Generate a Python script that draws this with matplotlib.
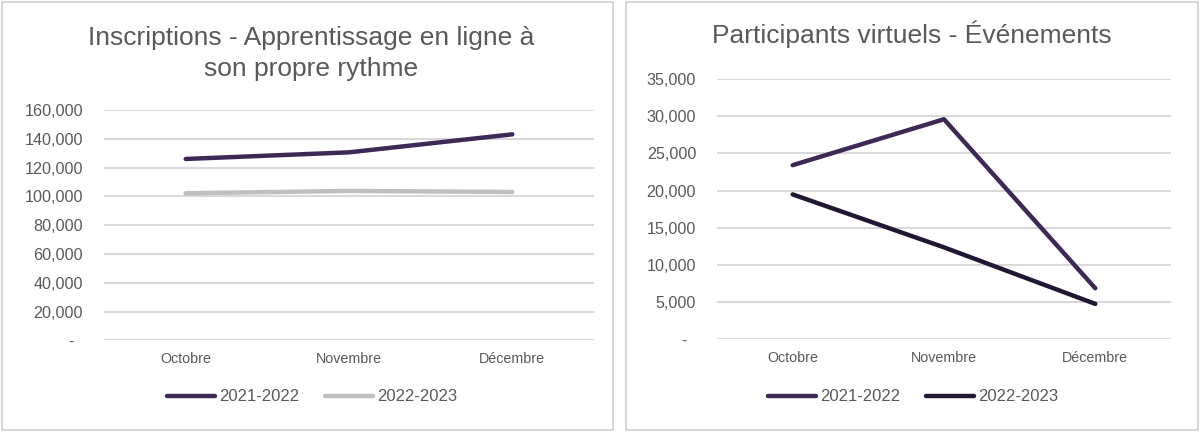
import matplotlib.pyplot as plt
from matplotlib.patches import Rectangle
from matplotlib.ticker import FuncFormatter

plt.rcParams['font.family'] = ['Liberation Sans', 'DejaVu Sans']

# -------- Data --------
months = ['Octobre', 'Novembre', 'Décembre']
series_names = ['2021-2022', '2022-2023']

inscriptions_2122 = [126000, 130600, 143100]
inscriptions_2223 = [102200, 103800, 103100]

virtuels_2122 = [23420, 29590, 6880]
virtuels_2223 = [19490, 12380, 4780]

purple = '#3d2856'
grey = '#bfbfbf'
dark = '#221733'
grid_col = '#d9d9d9'
text_col = '#595959'


def fmt(v, pos):
    # accounting style: zero shown as a dash, set in a little
    return '-  ' if v == 0 else f'{v:,.0f}'


def style_axis(ax, ymax, step):
    ax.set_xlim(-0.5, 2.5)
    ax.set_ylim(0, ymax)
    ax.set_yticks(range(0, ymax + 1, step))
    ax.yaxis.set_major_formatter(FuncFormatter(fmt))
    ax.grid(axis='y', color=grid_col, linewidth=1.5)
    ax.set_axisbelow(True)
    for s in ax.spines.values():
        s.set_visible(False)
    ax.tick_params(axis='both', length=0, colors=text_col)
    ax.tick_params(axis='y', labelsize=11.6, pad=15)
    ax.tick_params(axis='x', labelsize=10.3, pad=8)
    ax.set_xticks(range(len(months)))
    ax.set_xticklabels(months)


fig = plt.figure(figsize=(12, 4.41), dpi=100)

# panel borders
for x0, w in [(0.002, 0.509), (0.522, 0.476)]:
    fig.patches.append(Rectangle((x0, 0.025), w, 0.97, transform=fig.transFigure,
                                 fill=False, edgecolor='#d0d0d0', linewidth=1.2))

legend_kw = dict(loc='center', ncol=2, frameon=False, fontsize=12,
                 labelcolor=text_col, handlelength=2.9, handletextpad=0.25,
                 columnspacing=1.5)

# -------- Left chart --------
ax1 = fig.add_axes([0.0867, 0.2279, 0.4083, 0.5227])
style_axis(ax1, 160000, 20000)
l1, = ax1.plot(range(3), inscriptions_2122, color=purple, lw=3.2,
               solid_capstyle='round', label=series_names[0])
l2, = ax1.plot(range(3), inscriptions_2223, color=grey, lw=3.2,
               solid_capstyle='round', label=series_names[1])
fig.text(0.259, 0.879, 'Inscriptions - Apprentissage en ligne à\nson propre rythme',
         ha='center', va='center', fontsize=19, color=text_col, linespacing=1.35)
fig.legend(handles=[l1, l2], bbox_to_anchor=(0.26, 0.1), **legend_kw)

# -------- Right chart --------
ax2 = fig.add_axes([0.5975, 0.2302, 0.3783, 0.5907])
style_axis(ax2, 35000, 5000)
r1, = ax2.plot(range(3), virtuels_2122, color=purple, lw=3.2,
               solid_capstyle='round', label=series_names[0])
r2, = ax2.plot(range(3), virtuels_2223, color=dark, lw=3.2,
               solid_capstyle='round', label=series_names[1])
fig.text(0.76, 0.922, 'Participants virtuels - Événements',
         ha='center', va='center', fontsize=19, color=text_col)
fig.legend(handles=[r1, r2], bbox_to_anchor=(0.761, 0.1), **legend_kw)

fig.savefig('out.png', dpi=100)
